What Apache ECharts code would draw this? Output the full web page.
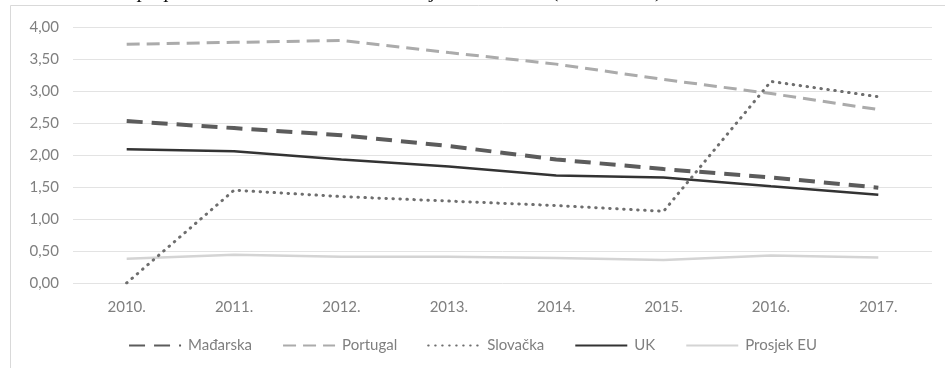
<!DOCTYPE html>
<html><head><meta charset="utf-8">
<script src="https://cdn.jsdelivr.net/npm/echarts@6/dist/echarts.min.js"></script>
<style>html,body{margin:0;padding:0;background:#fff}#c{width:945px;height:368px}</style>
</head><body><div id="c"></div>
<script>
const categories = ['2010.', '2011.', '2012.', '2013.', '2014.', '2015.', '2016.', '2017.'];
const madarska = [2.53, 2.42, 2.31, 2.14, 1.93, 1.78, 1.65, 1.49];
const portugal = [3.73, 3.76, 3.79, 3.60, 3.42, 3.18, 2.96, 2.71];
const slovacka = [0.00, 1.45, 1.35, 1.28, 1.21, 1.12, 3.15, 2.91];
const uk = [2.09, 2.06, 1.93, 1.82, 1.68, 1.65, 1.51, 1.38];
const prosjekEU = [0.38, 0.44, 0.41, 0.41, 0.39, 0.36, 0.43, 0.40];
const seriesNames = ['Mađarska', 'Portugal', 'Slovačka', 'UK', 'Prosjek EU'];
const caption = 'Udio državnih potpora u BDP-u odabranih zemalja članica EU (u % BDP-a)';

const chart = echarts.init(document.getElementById('c'), null, {renderer: 'canvas'});
const font = 'Lato, "Open Sans", sans-serif';
function line(name, data, color, width, type, cap) {
  return {name, type: 'line', data, symbol: 'none', smooth: false,
    lineStyle: {color, width, type, cap: cap || 'butt'}, itemStyle: {color}};
}
chart.setOption({
  animation: false,
  graphic: [
    {type: 'rect', shape: {x: 10.5, y: 5.5, width: 940, height: 370}, style: {fill: 'none', stroke: '#d9d9d9', lineWidth: 1}},
    {type: 'text', left: 12, top: -19, style: {text: caption, font: 'italic 21px "Liberation Serif", serif', fill: '#111'}}
  ],
  grid: {left: 73, right: 13, top: 27, bottom: 85},
  legend: {
    bottom: 10, left: 'center', itemWidth: 52, itemHeight: 12, itemGap: 30,
    itemStyle: {opacity: 0},
    textStyle: {color: '#7f7f7f', fontSize: 15, fontFamily: font, padding: [0, 0, 0, 2]},
    data: seriesNames
  },
  xAxis: {
    type: 'category', data: categories, boundaryGap: true,
    axisLine: {show: false}, axisTick: {show: false},
    axisLabel: {color: '#7f7f7f', fontSize: 15, fontFamily: font, margin: 17}
  },
  yAxis: {
    type: 'value', min: 0, max: 4, interval: 0.5,
    axisLine: {show: false}, axisTick: {show: false},
    splitLine: {lineStyle: {color: '#e3e3e3', width: 1}},
    axisLabel: {color: '#7f7f7f', fontSize: 15, fontFamily: font, margin: 14,
      formatter: v => v.toFixed(2).replace('.', ',')}
  },
  series: [
    line('Prosjek EU', prosjekEU, '#d4d4d4', 2.5, 'solid'),
    line('Portugal', portugal, '#ababab', 3, [13, 7]),
    line('UK', uk, '#333333', 2.5, 'solid'),
    line('Mađarska', madarska, '#5c5c5c', 4, [16, 9]),
    line('Slovačka', slovacka, '#6e6e6e', 3, [0.5, 6.5], 'round')
  ]
});
</script></body></html>
